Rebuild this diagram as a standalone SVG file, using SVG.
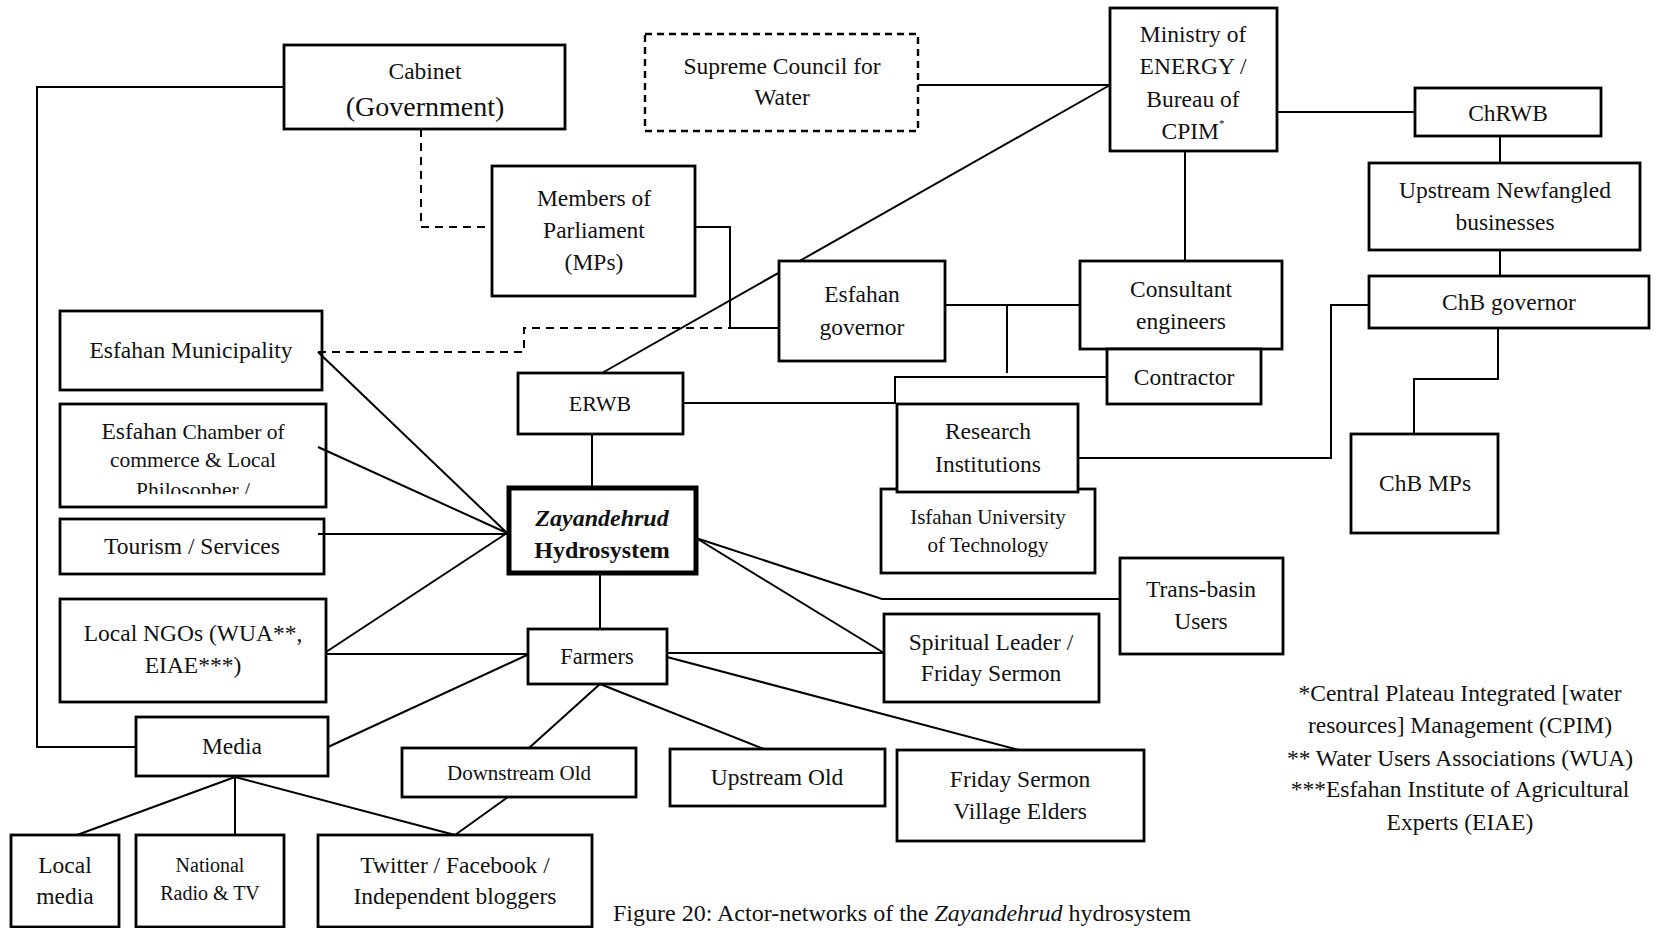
<svg xmlns="http://www.w3.org/2000/svg" width="1657" height="928" viewBox="0 0 1657 928">
<style>
.box{fill:#fff;stroke:#000;stroke-width:2.8}
.zb{fill:#fff;stroke:#000;stroke-width:5}
.dbox{fill:#fff;stroke:#000;stroke-width:2.4;stroke-dasharray:7 5}
.t{font-family:"Liberation Serif","Times New Roman",serif;font-size:23.5px;text-anchor:middle;fill:#111}
.s{font-size:21px}
.c{fill:none;stroke:#000;stroke-width:2}
.d{fill:none;stroke:#000;stroke-width:2;stroke-dasharray:8 6}
</style>
<defs>
<clipPath id="clipCh"><rect x="60" y="404" width="266" height="90"/></clipPath>
</defs>
<rect width="1657" height="928" fill="#fff"/>

<g id="n-cabinet"><rect class="box" x="284" y="45" width="281" height="84"/><text class="t" x="425" y="79">Cabinet</text><text class="t" x="425" y="116" style="font-size:28px">(Government)</text></g>
<g id="n-supreme"><rect class="dbox" x="645" y="34" width="273" height="97"/><text class="t" x="782" y="74">Supreme Council for</text><text class="t" x="782" y="105">Water</text></g>
<g id="n-ministry"><rect class="box" x="1110" y="8" width="167" height="143"/><text class="t" x="1193" y="42">Ministry of</text><text class="t" x="1193" y="74">ENERGY /</text><text class="t" x="1193" y="107">Bureau of</text><text class="t" x="1193" y="139">CPIM<tspan font-size="11" dy="-12">*</tspan></text></g>
<g id="n-chrwb"><rect class="box" x="1415" y="88" width="186" height="48"/><text class="t" x="1508" y="121">ChRWB</text></g>
<g id="n-upnew"><rect class="box" x="1369" y="163" width="271" height="87"/><text class="t" x="1505" y="198">Upstream Newfangled</text><text class="t" x="1505" y="230">businesses</text></g>
<g id="n-chbgov"><rect class="box" x="1369" y="276" width="280" height="52"/><text class="t" x="1509" y="310">ChB governor</text></g>
<g id="n-chbmps"><rect class="box" x="1351" y="434" width="147" height="99"/><text class="t" x="1425" y="491">ChB MPs</text></g>
<g id="n-consult"><rect class="box" x="1080" y="261" width="202" height="88"/><text class="t" x="1181" y="297">Consultant</text><text class="t" x="1181" y="329">engineers</text></g>
<g id="n-contractor"><rect class="box" x="1107" y="349" width="154" height="55"/><text class="t" x="1184" y="385">Contractor</text></g>
<g id="n-iut"><rect class="box" x="881" y="489" width="214" height="84"/><text class="t s" x="988" y="524">Isfahan University</text><text class="t s" x="988" y="552">of Technology</text></g>
<g id="n-research"><rect class="box" x="897" y="404" width="181" height="88"/><text class="t" x="988" y="439">Research</text><text class="t" x="988" y="472">Institutions</text></g>
<g id="n-esfgov"><rect class="box" x="779" y="261" width="166" height="100"/><text class="t" x="862" y="302">Esfahan</text><text class="t" x="862" y="335">governor</text></g>
<g id="n-mps"><rect class="box" x="492" y="166" width="203" height="130"/><text class="t" x="594" y="206">Members of</text><text class="t" x="594" y="238">Parliament</text><text class="t" x="594" y="270">(MPs)</text></g>
<g id="n-erwb"><rect class="box" x="518" y="373" width="165" height="61"/><text class="t" x="600" y="411" style="font-size:22px">ERWB</text></g>
<g id="n-zay"><rect class="zb" x="509" y="488" width="187" height="85"/><text class="t" x="602" y="526" style="font-weight:bold;font-style:italic;font-size:24px">Zayandehrud</text><text class="t" x="602" y="558" style="font-weight:bold;font-size:24px">Hydrosystem</text></g>
<g id="n-farmers"><rect class="box" x="528" y="629" width="139" height="55"/><text class="t" x="597" y="664" style="font-size:22.5px">Farmers</text></g>
<g id="n-muni"><rect class="box" x="60" y="311" width="262" height="79"/><text class="t" x="191" y="358">Esfahan Municipality</text></g>
<g id="n-chamber"><rect class="box" x="60" y="404" width="266" height="103"/><text class="t" x="193" y="439">Esfahan<tspan font-size="21.5"> Chamber of</tspan></text><text class="t" x="193" y="467" style="font-size:21.5px">commerce &amp; Local</text><text class="t" x="193" y="497" style="font-size:21.5px" clip-path="url(#clipCh)">Philosopher /</text></g>
<g id="n-tourism"><rect class="box" x="60" y="519" width="264" height="55"/><text class="t" x="192" y="554">Tourism / Services</text></g>
<g id="n-ngos"><rect class="box" x="60" y="599" width="266" height="103"/><text class="t" x="193" y="641">Local NGOs (WUA**,</text><text class="t" x="193" y="673">EIAE***)</text></g>
<g id="n-media"><rect class="box" x="136" y="717" width="192" height="59"/><text class="t" x="232" y="754">Media</text></g>
<g id="n-localmedia"><rect class="box" x="11" y="835" width="108" height="92"/><text class="t" x="65" y="873">Local</text><text class="t" x="65" y="904">media</text></g>
<g id="n-national"><rect class="box" x="136" y="835" width="148" height="92"/><text class="t" x="210" y="872" style="font-size:20px">National</text><text class="t" x="210" y="900" style="font-size:20px">Radio &amp; TV</text></g>
<g id="n-twitter"><rect class="box" x="318" y="835" width="274" height="92"/><text class="t" x="455" y="873">Twitter / Facebook /</text><text class="t" x="455" y="904">Independent bloggers</text></g>
<g id="n-downold"><rect class="box" x="402" y="748" width="234" height="49"/><text class="t" x="519" y="780" style="font-size:21px">Downstream Old</text></g>
<g id="n-upold"><rect class="box" x="670" y="749" width="215" height="57"/><text class="t" x="777" y="785">Upstream Old</text></g>
<g id="n-friday"><rect class="box" x="897" y="750" width="247" height="91"/><text class="t" x="1020" y="787">Friday Sermon</text><text class="t" x="1020" y="819">Village Elders</text></g>
<g id="n-spiritual"><rect class="box" x="884" y="614" width="215" height="88"/><text class="t" x="991" y="650">Spiritual Leader /</text><text class="t" x="991" y="681">Friday Sermon</text></g>
<g id="n-transbasin"><rect class="box" x="1120" y="558" width="163" height="96"/><text class="t" x="1201" y="597">Trans-basin</text><text class="t" x="1201" y="629">Users</text></g>

<g id="connectors">
<polyline class="c" points="284,87 37,87 37,747 136,747"/>
<polyline class="c" points="695,227 730,227 730,328 779,328"/>
<line class="c" x1="918" y1="85" x2="1110" y2="85"/>
<line class="c" x1="1110" y1="85" x2="799.5" y2="261"/>
<line class="c" x1="779" y1="272.6" x2="602" y2="373"/>
<line class="c" x1="1277" y1="112" x2="1415" y2="112"/>
<line class="c" x1="1185" y1="151" x2="1185" y2="261"/>
<line class="c" x1="1500" y1="136" x2="1500" y2="163"/>
<line class="c" x1="1500" y1="250" x2="1500" y2="276"/>
<polyline class="c" points="1498,328 1498,379 1414,379 1414,434"/>
<polyline class="c" points="1369,305 1331,305 1331,458 1078,458"/>
<line class="c" x1="945" y1="305" x2="1080" y2="305"/>
<line class="c" x1="1007" y1="305" x2="1007" y2="373"/>
<polyline class="c" points="1107,377 895,377 895,404"/>
<line class="c" x1="683" y1="403" x2="895" y2="403"/>
<line class="c" x1="592" y1="434" x2="592" y2="488"/>
<line class="c" x1="600" y1="573" x2="600" y2="629"/>
<line class="c" x1="318" y1="352" x2="507" y2="533"/>
<line class="c" x1="318" y1="447" x2="507" y2="533"/>
<line class="c" x1="318" y1="534" x2="507" y2="534"/>
<line class="c" x1="326" y1="652" x2="507" y2="533"/>
<line class="c" x1="326" y1="654" x2="528" y2="654"/>
<line class="c" x1="527" y1="655" x2="328" y2="747"/>
<line class="c" x1="600" y1="684" x2="529" y2="748"/>
<line class="c" x1="600" y1="684" x2="764" y2="749"/>
<line class="c" x1="667" y1="657" x2="1019" y2="750"/>
<line class="c" x1="667" y1="653" x2="884" y2="653"/>
<line class="c" x1="696" y1="538" x2="884" y2="653"/>
<polyline class="c" points="696,538 882,599 1120,599"/>
<line class="c" x1="235" y1="777" x2="77" y2="835"/>
<line class="c" x1="235" y1="777" x2="235" y2="835"/>
<line class="c" x1="235" y1="777" x2="455" y2="835"/>
<line class="c" x1="508" y1="797" x2="455" y2="835"/>
<polyline class="d" points="421,129 421,227 492,227"/>
<polyline class="d" points="318,352 524,352 524,328 730,328"/>
</g>

<g id="footnotes">
<text class="t" x="1460" y="701">*Central Plateau Integrated [water</text>
<text class="t" x="1460" y="733">resources] Management (CPIM)</text>
<text class="t" x="1460" y="766">** Water Users Associations (WUA)</text>
<text class="t" x="1460" y="797">***Esfahan Institute of Agricultural</text>
<text class="t" x="1460" y="830">Experts (EIAE)</text>
</g>
<text class="t" x="613" y="921" style="text-anchor:start;font-size:24px">Figure 20: Actor-networks of the <tspan font-style="italic">Zayandehrud</tspan> hydrosystem</text>
</svg>
